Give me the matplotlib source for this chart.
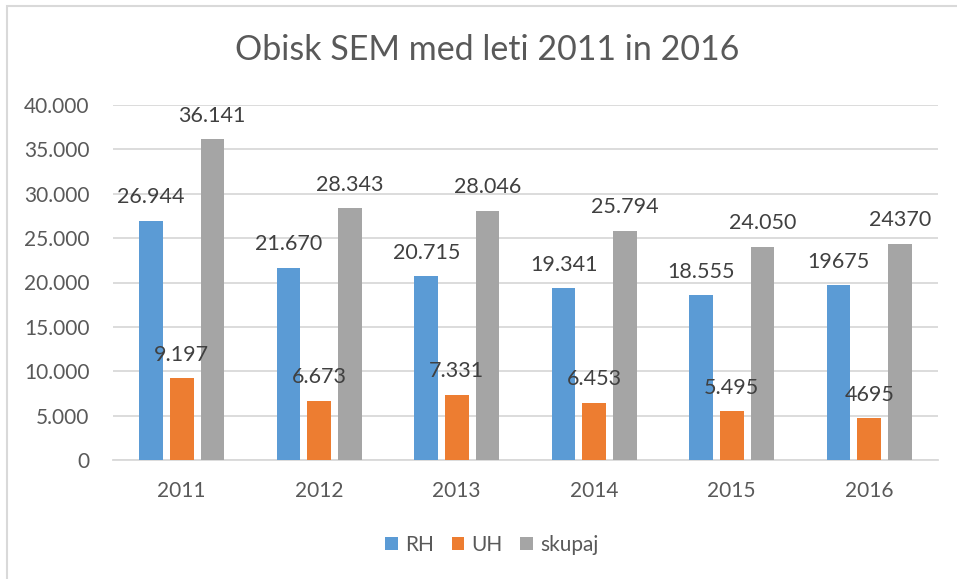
import matplotlib.pyplot as plt
from matplotlib.patches import Rectangle
from matplotlib.ticker import FuncFormatter
import numpy as np

plt.rcParams['font.family'] = ['Lato', 'DejaVu Sans']

years = ['2011', '2012', '2013', '2014', '2015', '2016']
rh = [26944, 21670, 20715, 19341, 18555, 19675]
uh = [9197, 6673, 7331, 6453, 5495, 4695]
skupaj = [36141, 28343, 28046, 25794, 24050, 24370]
rh_labels = ['26.944', '21.670', '20.715', '19.341', '18.555', '19675']
uh_labels = ['9.197', '6.673', '7.331', '6.453', '5.495', '4695']
skupaj_labels = ['36.141', '28.343', '28.046', '25.794', '24.050', '24370']

W, H = 957, 579
fig = plt.figure(figsize=(W / 100, H / 100), dpi=100)

# light chart-area frame (right/bottom edges fall outside the picture)
fig.patches.append(Rectangle((7 / W, 1 - 600 / H), 1.1, (600 - 6) / H,
                             transform=fig.transFigure, fill=False,
                             edgecolor='#D9D9D9', linewidth=1.5))

ax = fig.add_axes([113 / W, 1 - 460 / H, (938 - 113) / W, (460 - 105) / H])

text_col = '#595959'
grid_col = '#D9D9D9'
x = np.arange(len(years))
step = 0.222
width = 0.171

series = [
    ('RH', rh, rh_labels, '#5B9BD5', -step),
    ('UH', uh, uh_labels, '#ED7D31', 0),
    ('skupaj', skupaj, skupaj_labels, '#A5A5A5', step),
]
for name, vals, labs, col, off in series:
    bars = ax.bar(x + off, vals, width, color=col, label=name, zorder=3)
    for b, lab in zip(bars, labs):
        ax.annotate(lab, (b.get_x() + b.get_width() / 2, b.get_height()),
                    xytext=(0, 17), textcoords='offset points',
                    ha='center', va='center', fontsize=15.5, color='#404040',
                    zorder=4)

ax.set_xlim(-0.5, len(years) - 0.5)
ax.set_ylim(0, 40000)
ax.set_yticks(np.arange(0, 40001, 5000))
ax.yaxis.set_major_formatter(FuncFormatter(lambda v, p: f'{int(v):,}'.replace(',', '.')))
ax.set_xticks(x)
ax.set_xticklabels(years)
ax.tick_params(axis='both', length=0, labelsize=15, labelcolor=text_col)
ax.tick_params(axis='y', pad=17)
ax.tick_params(axis='x', pad=15)
ax.grid(axis='y', color=grid_col, linewidth=1.3, zorder=0)
for s in ['left', 'right', 'top']:
    ax.spines[s].set_visible(False)
ax.spines['bottom'].set_color(grid_col)
ax.spines['bottom'].set_linewidth(1.3)

fig.text(487 / W, 1 - 50 / H, 'Obisk SEM med leti 2011 in 2016',
         ha='center', va='center', fontsize=24.5, color=text_col)

fig.legend(loc='center', bbox_to_anchor=(492 / W, 1 - 545 / H), ncol=3,
           frameon=False, fontsize=15, labelcolor=text_col,
           handlelength=0.6, handleheight=0.6, handletextpad=0.35,
           columnspacing=0.85)

fig.savefig('out.png', dpi=100)
